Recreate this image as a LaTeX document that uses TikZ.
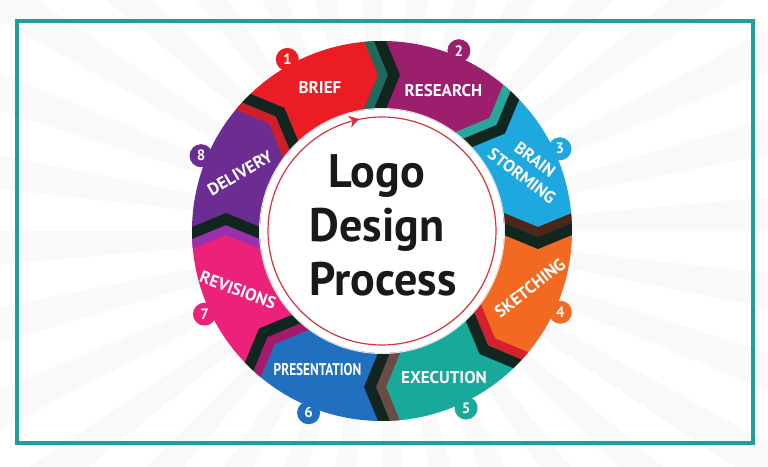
\documentclass[tikz,border=0pt]{standalone}
\usepackage{fontspec}
\setmainfont{PT Sans}
\usepackage{tikz}
\tikzset{>=stealth}
\usetikzlibrary{calc}

\definecolor{frameteal}{HTML}{1FA096}
\definecolor{cbrief}{HTML}{EC1C24}
\definecolor{cresearch}{HTML}{9C1F6E}
\definecolor{cbrain}{HTML}{1DA8E0}
\definecolor{csketch}{HTML}{F26A22}
\definecolor{cexec}{HTML}{18A99B}
\definecolor{cpres}{HTML}{2170C0}
\definecolor{crev}{HTML}{EC217A}
\definecolor{cdeliv}{HTML}{6B2D92}
\definecolor{chevdark}{HTML}{11261F}
\definecolor{innerred}{HTML}{D9323F}
% fold stripes, one per boundary
\definecolor{sA}{HTML}{1E6A5C}
\definecolor{sB}{HTML}{27A699}
\definecolor{sC}{HTML}{4B2719}
\definecolor{sD}{HTML}{D5212D}
\definecolor{sE}{HTML}{6C4B43}
\definecolor{sF}{HTML}{A61A6C}
\definecolor{sG}{HTML}{9A30AE}
\definecolor{sH}{HTML}{CC1F2A}

\tikzset{
  seglabel/.style={text=white, inner sep=0pt, font=\bfseries\fontsize{17}{17}\selectfont},
  badge/.style={circle, fill=#1, minimum size=23pt, inner sep=0pt, text=white, font=\bfseries\fontsize{15}{15}\selectfont},
  title/.style={anchor=base, text=black!90, inner sep=0pt, font=\bfseries\fontsize{47}{47}\selectfont},
  ray/.style={fill=gray!5}
}

\begin{document}
\begin{tikzpicture}[x=1pt, y=1pt]
    \clip (-382,-235) rectangle (386,231);
    \fill[white] (-382,-235) rectangle (386,231);
    % sunburst behind everything
    \foreach \a in {0,11.25,...,348.75}
        \fill[ray] (0,0) -- (\a:600) -- (\a+5:600) -- cycle;
    \draw[frameteal, line width=4] (-365,210) rectangle (371,-212);

    % number badges
    \node[badge=cbrief] (n1) at (118.9:196) {1};
    \node[badge=cresearch] (n2) at (66.9:196) {2};
    \node[badge=cbrain] (n3) at (24.8:196) {3};
    \node[badge=csketch] (n4) at (-24.5:196) {4};
    \node[badge=cexec] (n5) at (-64.6:196) {5};
    \node[badge=cpres] (n6) at (-112:196) {6};
    \node[badge=crev] (n7) at (-154.9:196) {7};
    \node[badge=cdeliv] (n8) at (157.4:196) {8};

    % the ring
    \begin{scope}
    \clip (0,0) circle (190);
    \foreach \a/\c in {135/cbrief, 90/cresearch, 45/cbrain, 0/csketch, -45/cexec, -90/cpres, -135/crev, 180/cdeliv}
        \fill[\c] (0,0) -- (\a:200) arc[start angle=\a, end angle=\a-45, radius=200] -- cycle;
    \foreach \t/\s in {90/sA, 45/sB, 0/sC, -45/sD, -90/sE, -135/sF, 180/sG, 135/sH} {
        \fill[\s] ([rotate=\t]100,18) -- ([rotate=\t]122,18) -- ([rotate=\t]156,4) -- ([rotate=\t]190,18) -- ([rotate=\t]200,18)
            -- ([rotate=\t]200,8) -- ([rotate=\t]190,8) -- ([rotate=\t]156,-6) -- ([rotate=\t]122,8) -- ([rotate=\t]100,8) -- cycle;
        \fill[chevdark] ([rotate=\t]100,8) -- ([rotate=\t]122,8) -- ([rotate=\t]156,-6) -- ([rotate=\t]190,8) -- ([rotate=\t]200,8)
            -- ([rotate=\t]200,-4) -- ([rotate=\t]190,-4) -- ([rotate=\t]156,-18) -- ([rotate=\t]122,-4) -- ([rotate=\t]100,-4) -- cycle;
    }
    \end{scope}

    % centre
    \fill[white] (0,0) circle (122);
    \draw[gray!20, line width=1] (0,0) circle (122.5);
    \draw[innerred, line width=1.2] (0,0) circle (114);
    \fill[innerred] ([rotate=105]114,-7) -- ([rotate=105]120,3) -- ([rotate=105]114,0) -- ([rotate=105]108,3) -- cycle;
    \node[title] (logo) at (-5,44) {\scalebox{0.98}[1]{Logo}};
    \node[title] (design) at (-5,-10) {\scalebox{0.98}[1]{Design}};
    \node[title] (process) at (1,-64) {\scalebox{0.98}[1]{Process}};

    % step labels
    \node[seglabel] (brief) at (-62,143.5) {BRIEF};
    \node[seglabel] (research) at (61.5,140) {RESEARCH};
    \node[seglabel, rotate=-37] (brain) at (153,71) {BRAIN};
    \node[seglabel, rotate=-37] (storming) at (140,55) {STORMING};
    \node[seglabel, rotate=38] (sketching) at (148,-57) {SKETCHING};
    \node[seglabel] (execution) at (62,-147) {EXECUTION};
    \node[seglabel] (presentation) at (-64.5,-138.5) {\scalebox{0.78}[1]{PRESENTATION}};
    \node[seglabel, rotate=-20] (revisions) at (-144,-59) {REVISIONS};
    \node[seglabel, rotate=30] (delivery) at (-142,58) {DELIVERY};
\end{tikzpicture}
\end{document}
